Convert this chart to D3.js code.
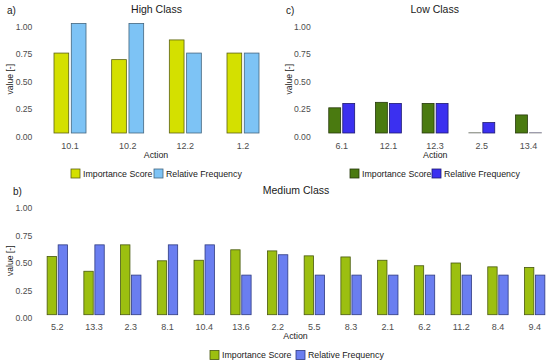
<!DOCTYPE html>
<html>
<head>
<meta charset="utf-8">
<script src="https://cdn.jsdelivr.net/npm/d3@7"></script>
<style>
  body { margin: 0; background: #fff; }
  svg { display: block; font-family: "Liberation Sans", Arial, sans-serif; }
</style>
</head>
<body>
<svg id="chart" width="550" height="364"></svg>
<script>
// High class
var highActions = ['10.1', '10.2', '12.2', '1.2'];
var highImportance = [0.73, 0.67, 0.85, 0.73];
var highFrequency = [1.0, 1.0, 0.73, 0.73];

// Low class
var lowActions = ['6.1', '12.1', '12.3', '2.5', '13.4'];
var lowImportance = [0.23, 0.28, 0.27, 0, 0.165];
var lowFrequency = [0.27, 0.27, 0.27, 0.095, 0];

// Medium class
var mediumActions = ['5.2', '13.3', '2.3', '8.1', '10.4', '13.6', '2.2', '5.5', '8.3', '2.1', '6.2', '11.2', '8.4', '9.4'];
var mediumImportance = [0.53, 0.395, 0.635, 0.49, 0.495, 0.59, 0.58, 0.535, 0.525, 0.495, 0.445, 0.47, 0.435, 0.43];
var mediumFrequency = [0.635, 0.635, 0.36, 0.635, 0.635, 0.36, 0.545, 0.36, 0.36, 0.36, 0.36, 0.36, 0.36, 0.36];

var yTicks = [0, 0.25, 0.5, 0.75, 1];
var seriesNames = ['Importance Score', 'Relative Frequency'];

var svg = d3.select('#chart');

function panel(opts) {
  var g = svg.append('g');
  var x = d3.scalePoint()
    .domain(opts.actions)
    .range(opts.xRange)
    .padding(0.6);
  var y = d3.scaleLinear()
    .domain([0, 1])
    .range([opts.y0, opts.y0 - opts.unit]);
  var step = x.step();
  var bw = step * 0.255;
  var gap = step * 0.045;

  // y tick labels
  g.selectAll('text.ytick')
    .data(yTicks)
    .enter()
    .append('text')
    .attr('class', 'ytick')
    .attr('x', opts.xRange[0] - 3)
    .attr('y', function (d) { return y(d) + 3.5; })
    .attr('dy', '0.35em')
    .attr('text-anchor', 'end')
    .attr('font-size', 8.6)
    .attr('fill', '#4d4d4d')
    .text(function (d) { return d3.format('.2f')(d); });

  // x tick labels
  g.selectAll('text.xtick')
    .data(opts.actions)
    .enter()
    .append('text')
    .attr('class', 'xtick')
    .attr('x', function (d) { return x(d); })
    .attr('y', opts.y0 + 12.5)
    .attr('dy', '0.35em')
    .attr('text-anchor', 'middle')
    .attr('font-size', 9)
    .attr('fill', '#4d4d4d')
    .text(function (d) { return d; });

  var series = [opts.importance, opts.frequency];
  series.forEach(function (vals, s) {
    g.selectAll('rect.s' + s)
      .data(vals)
      .enter()
      .append('rect')
      .attr('class', 's' + s)
      .attr('x', function (d, i) {
        var c = x(opts.actions[i]);
        return s === 0 ? c - gap / 2 - bw : c + gap / 2;
      })
      .attr('y', function (d) { return Math.min(y(d), opts.y0 - 0.4); })
      .attr('width', bw)
      .attr('height', function (d) { return Math.max(0.4, opts.y0 - y(d)); })
      .attr('fill', opts.fill[s])
      .attr('stroke', function (d) { return d > 0 ? opts.stroke[s] : '#9a9a9a'; })
      .attr('stroke-width', 0.8);
  });

  // titles
  g.append('text')
    .attr('x', opts.titleX)
    .attr('y', opts.titleY)
    .attr('dy', '0.35em')
    .attr('text-anchor', 'middle')
    .attr('font-size', 10.5)
    .attr('fill', '#1a1a1a')
    .text(opts.title);
  g.append('text')
    .attr('x', opts.tagX)
    .attr('y', opts.titleY + 1)
    .attr('dy', '0.35em')
    .attr('font-size', 10)
    .attr('fill', '#1a1a1a')
    .text(opts.tag);

  // axis titles
  g.append('text')
    .attr('x', opts.actionX)
    .attr('y', opts.y0 + 21.5)
    .attr('dy', '0.35em')
    .attr('text-anchor', 'middle')
    .attr('font-size', 8.8)
    .attr('fill', '#1a1a1a')
    .text('Action');
  g.append('text')
    .attr('transform', 'translate(' + opts.valueX + ',' + (y(0.5) + 1) + ') rotate(-90)')
    .attr('dy', '0.35em')
    .attr('text-anchor', 'middle')
    .attr('font-size', 8.6)
    .attr('fill', '#1a1a1a')
    .text('value [-]');

  // legend
  var lg = g.append('g')
    .attr('transform', 'translate(' + opts.legendX + ',' + opts.legendY + ')');
  var offs = [0, opts.legendGap];
  seriesNames.forEach(function (name, s) {
    lg.append('rect')
      .attr('x', offs[s])
      .attr('y', -4.5)
      .attr('width', 9)
      .attr('height', 9)
      .attr('fill', opts.fill[s])
      .attr('stroke', opts.stroke[s])
      .attr('stroke-width', 0.8);
    lg.append('text')
      .attr('x', offs[s] + 12)
      .attr('y', 0)
      .attr('dy', '0.35em')
      .attr('font-size', 8.8)
      .attr('fill', '#1a1a1a')
      .text(name);
  });
}

panel({
  actions: highActions, importance: highImportance, frequency: highFrequency,
  xRange: [35.4, 277.6], y0: 133, unit: 109.5,
  fill: ['#d4e000', '#7dc3f5'], stroke: ['#5c6214', '#44667f'],
  title: 'High Class', titleX: 156.5, titleY: 9, tag: 'a)', tagX: 7,
  actionX: 156, valueX: 10, legendX: 71, legendY: 173.5, legendGap: 83
});

panel({
  actions: lowActions, importance: lowImportance, frequency: lowFrequency,
  xRange: [313.7, 556.5], y0: 133, unit: 109.5,
  fill: ['#4a7a10', '#3b30f0'], stroke: ['#26390a', '#1e1a70'],
  title: 'Low Class', titleX: 434.7, titleY: 9, tag: 'c)', tagX: 286,
  actionX: 435.3, valueX: 289.3, legendX: 350, legendY: 173.5, legendGap: 82
});

panel({
  actions: mediumActions, importance: mediumImportance, frequency: mediumFrequency,
  xRange: [35.3, 556.7], y0: 314.7, unit: 110,
  fill: ['#9cbf10', '#6a7ef0'], stroke: ['#48580f', '#2e3a80'],
  title: 'Medium Class', titleX: 296, titleY: 190, tag: 'b)', tagX: 13,
  actionX: 295.5, valueX: 9.5, legendX: 210, legendY: 355, legendGap: 86
});
</script>
</body>
</html>
